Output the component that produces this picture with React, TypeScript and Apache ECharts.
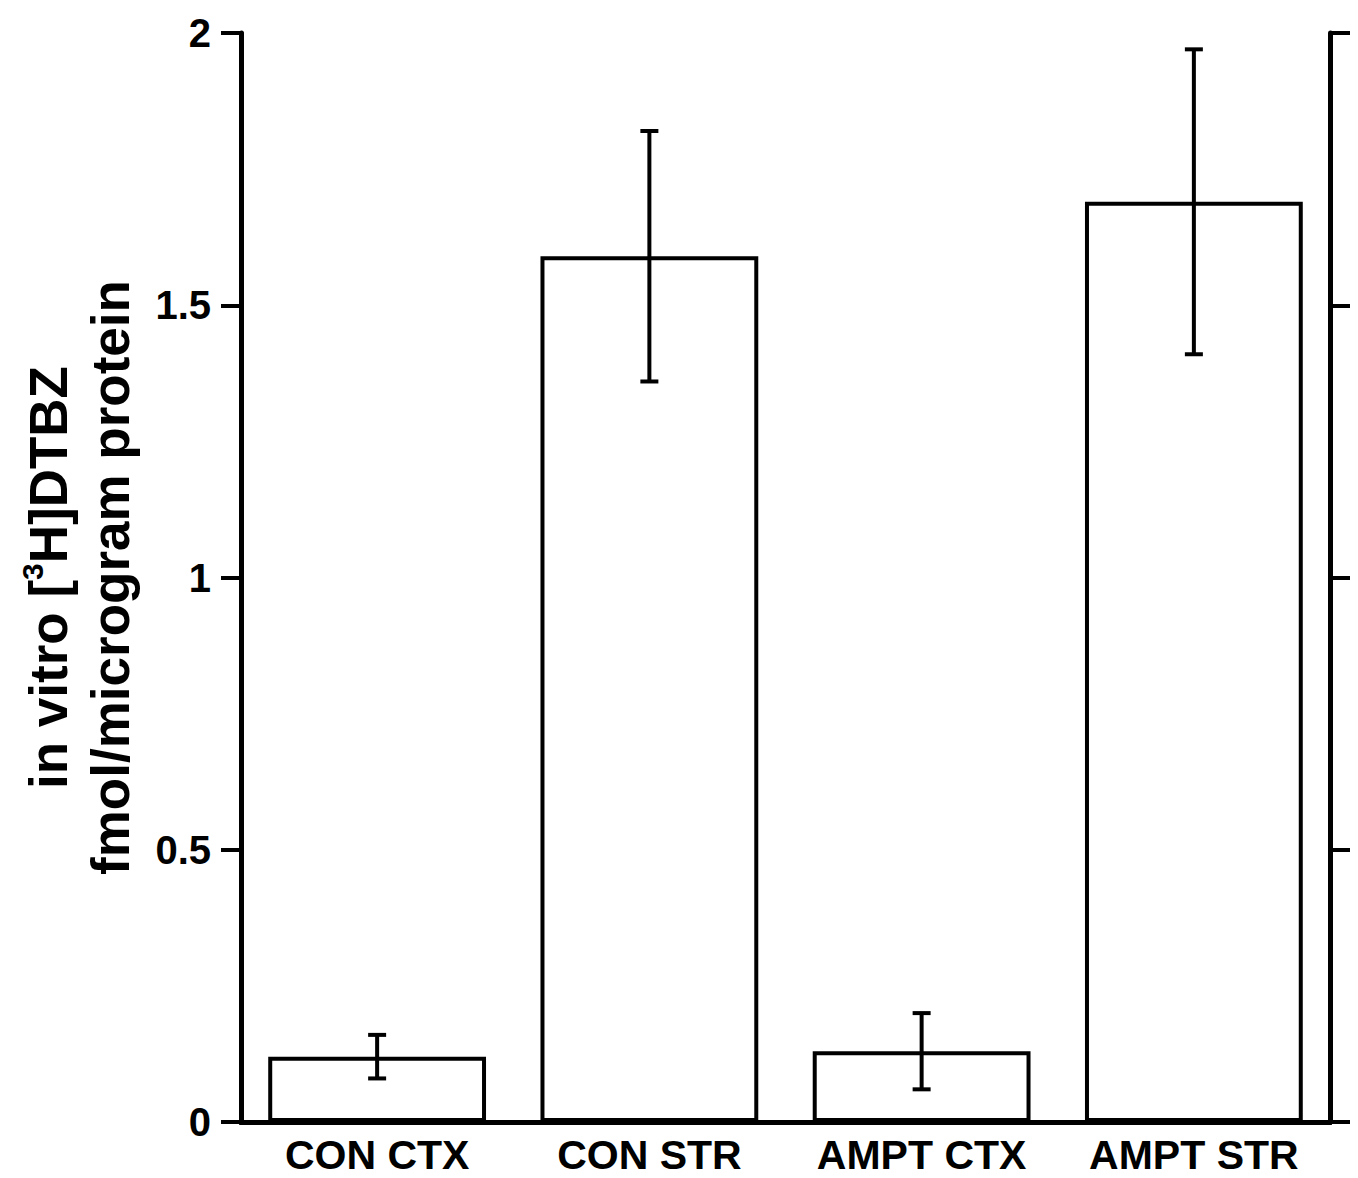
import React, { useEffect, useRef } from "react";
import * as echarts from "echarts";

const categories = ["CON CTX", "CON STR", "AMPT CTX", "AMPT STR"];
const meanValues = [0.12, 1.59, 0.13, 1.69];
const errorLow = [0.08, 1.36, 0.06, 1.41];
const errorHigh = [0.16, 1.82, 0.2, 1.97];
const yTicks = [0, 0.5, 1, 1.5, 2];

const FONT = '"Liberation Sans", Arial, Helvetica, sans-serif';

export default function App() {
  const ref = useRef<HTMLDivElement>(null);

  useEffect(() => {
    document.body.style.margin = "0";
    if (!ref.current) return;
    const chart = echarts.init(ref.current, null, { renderer: "svg" });

    const yAxisCommon = {
      type: "value",
      min: yTicks[0],
      max: yTicks[yTicks.length - 1],
      interval: 0.5,
      splitLine: { show: false },
      axisLine: { show: true, lineStyle: { color: "#000", width: 5 } },
      axisTick: {
        show: true,
        inside: false,
        length: 20,
        lineStyle: { color: "#000", width: 4 },
      },
    };

    const errorData = categories.map((_, i) => [i, errorLow[i], errorHigh[i]]);

    chart.setOption({
      animation: false,
      backgroundColor: "#fff",
      grid: { left: 241, right: 28, top: 33, bottom: 56, containLabel: false },
      xAxis: [
        {
          type: "category",
          data: categories,
          position: "bottom",
          axisLine: { show: true, lineStyle: { color: "#000", width: 5 } },
          axisTick: { show: false },
          axisLabel: {
            interval: 0,
            hideOverlap: false,
            color: "#000",
            fontSize: 41,
            fontWeight: "bold",
            fontFamily: FONT,
            margin: 12,
          },
        },
        {
          type: "category",
          data: categories,
          position: "top",
          axisLine: { show: true, lineStyle: { color: "#000", width: 5 } },
          axisTick: { show: false },
          axisLabel: { show: false },
        },
      ],
      yAxis: [
        {
          ...yAxisCommon,
          position: "left",
          axisLabel: {
            color: "#000",
            fontSize: 40,
            fontWeight: "bold",
            fontFamily: FONT,
            margin: 30,
            padding: [0, 0, 12, 0],
            formatter: (v: number) => String(v),
          },
          name: "{a|in vitro [}{s|3}{a|H]DTBZ}\n{a|fmol/microgram protein}",
          nameLocation: "middle",
          nameRotate: 90,
          nameGap: 100,
          nameTextStyle: {
            color: "#000",
            fontSize: 53,
            fontWeight: "bold",
            fontFamily: FONT,
            lineHeight: 62,
            rich: {
              a: {
                color: "#000",
                fontSize: 53,
                fontWeight: "bold",
                fontFamily: FONT,
                lineHeight: 62,
              },
              s: {
                color: "#000",
                fontSize: 30,
                fontWeight: "bold",
                fontFamily: FONT,
                lineHeight: 14,
                verticalAlign: "top",
              },
            },
          },
        },
        {
          ...yAxisCommon,
          position: "right",
          axisLabel: { show: false },
        },
      ],
      series: [
        {
          type: "bar",
          data: meanValues,
          barWidth: "80%",
          itemStyle: { color: "#fff", borderColor: "#000", borderWidth: 4 },
          z: 2,
        },
        {
          type: "custom",
          data: errorData,
          z: 3,
          renderItem: (params: any, api: any) => {
            const idx = api.value(0);
            const lo = api.coord([idx, api.value(1)]);
            const hi = api.coord([idx, api.value(2)]);
            const cap = 9;
            const style = { stroke: "#000", lineWidth: 4 };
            return {
              type: "group",
              children: [
                { type: "line", shape: { x1: lo[0], y1: lo[1], x2: hi[0], y2: hi[1] }, style },
                { type: "line", shape: { x1: hi[0] - cap, y1: hi[1], x2: hi[0] + cap, y2: hi[1] }, style },
                { type: "line", shape: { x1: lo[0] - cap, y1: lo[1], x2: lo[0] + cap, y2: lo[1] }, style },
              ],
            };
          },
        },
      ],
    });

    return () => chart.dispose();
  }, []);

  return <div ref={ref} style={{ width: 1358, height: 1178 }} />;
}
